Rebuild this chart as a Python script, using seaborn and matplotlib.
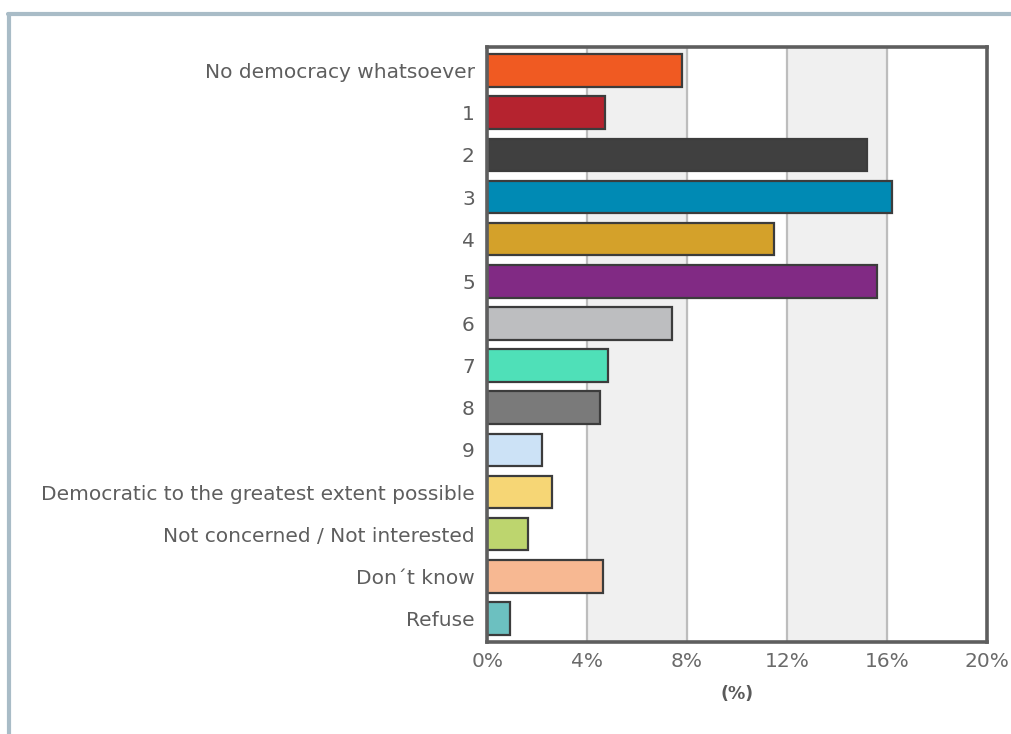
import matplotlib
matplotlib.use("Agg")
import matplotlib.pyplot as plt
from matplotlib.lines import Line2D
import seaborn as sns
import pandas as pd

categories = [
    "No democracy whatsoever", "1", "2", "3", "4", "5", "6", "7", "8", "9",
    "Democratic to the greatest extent possible",
    "Not concerned / Not interested", "Don\u00b4t know", "Refuse",
]
values = [7.8, 4.7, 15.2, 16.2, 11.5, 15.6, 7.4, 4.85, 4.5, 2.2, 2.6, 1.65, 4.65, 0.9]
colors = [
    "#F05A22", "#B5232F", "#404040", "#008AB4", "#D4A12A", "#812A84", "#BDBEC0",
    "#4FE0B8", "#7A7A7A", "#CCE2F6", "#F6D675", "#BDD56E", "#F7B892", "#6CC0C0",
]
xticks = [0, 4, 8, 12, 16, 20]
xtick_labels = ["0%", "4%", "8%", "12%", "16%", "20%"]

df = pd.DataFrame({"category": categories, "value": values})

sns.set_style("white")
plt.rcParams["font.family"] = ["DejaVu Sans"]

fig = plt.figure(figsize=(10.12, 7.34), dpi=100)
ax = fig.add_axes([0.4815, 0.1253, 0.4935, 0.8107])

# alternating vertical bands and grid lines
for lo, hi in [(4, 8), (12, 16)]:
    ax.axvspan(lo, hi, color="#F0F0F0", zorder=0)
for xv in xticks[1:-1]:
    ax.axvline(xv, color="#BDBDBD", lw=1.6, zorder=0.5)

sns.barplot(
    data=df, x="value", y="category", hue="category", palette=colors,
    legend=False, orient="h", width=0.775, edgecolor="#3C3C3C",
    linewidth=1.6, saturation=1, ax=ax, zorder=2,
)

ax.set_xlim(0, 20)
ax.set_ylim(len(categories) - 1 + 0.56, -0.56)
ax.set_xticks(xticks)
ax.set_xticklabels(xtick_labels)
ax.set_ylabel("")
ax.set_xlabel("(%)", fontsize=12.5, fontweight="bold", color="#5A5A5A", labelpad=10)
ax.tick_params(axis="y", length=0, labelsize=14.5, colors="#5E5E5E", pad=9)
ax.tick_params(axis="x", length=0, labelsize=14.5, colors="#6A6A6A", pad=7)
for sp in ax.spines.values():
    sp.set_color("#5E5E5E")
    sp.set_linewidth(2.6)
    sp.set_visible(True)

# outer panel border (top and left)
W, H = 1012, 734
fig.add_artist(Line2D([8 / W, 1], [1 - 14 / H, 1 - 14 / H], transform=fig.transFigure,
                      color="#A9BCC7", lw=3))
fig.add_artist(Line2D([9 / W, 9 / W], [0, 1 - 14 / H], transform=fig.transFigure,
                      color="#A9BCC7", lw=3))

fig.savefig("out.png", dpi=100, facecolor="white")
